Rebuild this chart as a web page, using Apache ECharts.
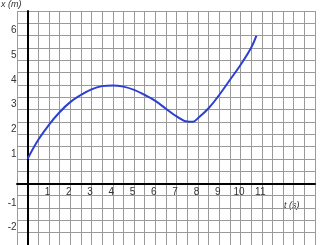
<!DOCTYPE html>
<html>
<head>
<meta charset="utf-8">
<script src="https://cdn.jsdelivr.net/npm/echarts@6/dist/echarts.min.js"></script>
<style>
html,body{margin:0;padding:0;background:#fff;}
#c{width:331px;height:245px;}
</style>
</head>
<body>
<div id="c"></div>
<script>
// time (s)
const tValues = [0, 0.5, 1, 1.5, 2, 2.5, 3, 3.5, 4, 4.5, 5, 5.5, 6, 6.5, 7, 7.5, 7.75, 8, 8.5, 9, 9.5, 10, 10.5, 10.75];
// position x (m)
const xValues = [1.0, 1.77, 2.38, 2.89, 3.30, 3.59, 3.82, 3.95, 3.98, 3.93, 3.80, 3.59, 3.35, 3.03, 2.72, 2.51, 2.50, 2.65, 3.05, 3.59, 4.20, 4.81, 5.51, 6.0];
const xTickLabels = ['1','2','3','4','5','6','7','8','9','10','11'];
const yTickLabels = ['-2','-1','1','2','3','4','5','6'];

const seriesData = tValues.map((t, i) => [t, xValues[i]]);
const fontFam = "'Liberation Sans Narrow', 'Liberation Sans', Arial, sans-serif";

const chart = echarts.init(document.getElementById('c'), null, {renderer: 'canvas'});
chart.setOption({
  animation: false,
  grid: {left: 17, right: 16, top: 11, bottom: 0, containLabel: false, outerBoundsMode: 'none'},
  xAxis: {
    type: 'value', min: -0.5, max: 13.5, interval: 0.5,
    axisLine: {show: true, onZero: false, lineStyle: {color: '#000', width: 2}},
    axisTick: {show: false},
    splitLine: {show: true, lineStyle: {color: '#9a9a9a', width: 1}},
    axisLabel: {
      margin: 4, fontSize: 10, color: '#333', fontFamily: fontFam, padding: [0, 3, 0, 0],
      formatter: v => (xTickLabels.indexOf(String(v)) >= 0 ? String(v) : '')
    }
  },
  yAxis: {
    type: 'value', min: -2.5, max: 7, interval: 0.5,
    axisLine: {show: true, onZero: false, lineStyle: {color: '#000', width: 2}},
    axisTick: {show: false},
    splitLine: {show: true, lineStyle: {color: '#9a9a9a', width: 1}},
    axisLabel: {
      margin: 11, fontSize: 10, color: '#333', fontFamily: fontFam, verticalAlign: 'bottom',
      formatter: v => (yTickLabels.indexOf(String(v)) >= 0 ? String(v) : '')
    }
  },
  graphic: [
    {type: 'text', left: 1, top: 0, style: {text: 'x (m)', font: "italic 9px " + fontFam, fill: '#333'}},
    {type: 'text', left: 284, top: 201, style: {text: 't (s)', font: "italic 9px " + fontFam, fill: '#333'}}
  ],
  series: [{
    type: 'line', data: seriesData, smooth: 0.4, showSymbol: false,
    lineStyle: {color: '#2c3fd0', width: 2}
  }]
});
// move axes (line + labels) onto the zero lines using the library's own scales
const origin = chart.convertToPixel({gridIndex: 0}, [0, 0]);
const corner = chart.convertToPixel({gridIndex: 0}, [-0.5, -2.5]);
chart.setOption({
  xAxis: {offset: origin[1] - corner[1]},
  yAxis: {offset: corner[0] - origin[0]}
});
</script>
</body>
</html>
